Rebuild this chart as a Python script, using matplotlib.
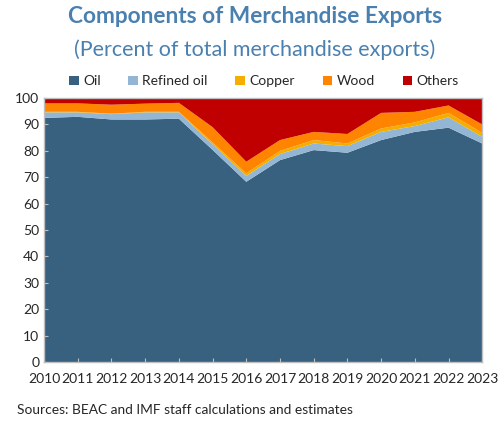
import numpy as np
import matplotlib
matplotlib.use("Agg")
import matplotlib.pyplot as plt

plt.rcParams["font.family"] = ["Lato", "DejaVu Sans"]

years = list(range(2010, 2024))
oil_top = [92.5, 92.9, 91.9, 91.9, 92.2, 80.4, 68.3, 76.5, 80.3, 79.3, 84.1, 87.2, 88.8, 82.8]
refined_top = [94.6, 94.6, 93.9, 94.6, 94.6, 82.5, 70.5, 78.8, 82.8, 81.8, 87.2, 89.4, 92.7, 85.3]
copper_top = [94.8, 94.8, 94.1, 94.8, 94.8, 83.2, 71.5, 80.0, 84.1, 82.8, 88.5, 90.8, 94.4, 86.8]
wood_top = [98.0, 98.0, 97.5, 97.9, 98.2, 89.0, 75.9, 84.1, 87.2, 86.4, 94.4, 94.8, 97.2, 90.0]

oil = np.array(oil_top)
refined = np.array(refined_top) - np.array(oil_top)
copper = np.array(copper_top) - np.array(refined_top)
wood = np.array(wood_top) - np.array(copper_top)
others = 100 - np.array(wood_top)

labels = ["Oil", "Refined oil", "Copper", "Wood", "Others"]
colors = ["#386180", "#93b6d4", "#f5ad00", "#ff8400", "#c00000"]

fig = plt.figure(figsize=(4.98, 4.21), dpi=100)
ax = fig.add_axes([0.0884, 0.140, 0.880, 0.627])

ax.stackplot(years, oil, refined, copper, wood, others, colors=colors,
             labels=labels, lw=0)
ax.set_xlim(2010, 2023)
ax.set_ylim(0, 100)
ax.set_yticks(range(0, 101, 10))
ax.set_xticks(years)
ax.tick_params(axis="both", direction="in", length=3, color="#bfbfbf",
               labelsize=10, labelcolor="#262626")
ax.tick_params(axis="x", pad=8)
for s in ax.spines.values():
    s.set_color("#bfbfbf")
    s.set_linewidth(1)

fig.text(0.512, 0.960, "Components of Merchandise Exports", ha="center",
         va="center", fontsize=16.3, fontweight="bold", color="#4a80b0")
fig.text(0.512, 0.883, "(Percent of total merchandise exports)", ha="center",
         va="center", fontsize=15.5, color="#4a80b0")
fig.legend(loc="center", bbox_to_anchor=(0.53, 0.807), ncol=5, frameon=False,
           fontsize=10, handlelength=0.7, handleheight=0.7, handletextpad=0.3,
           columnspacing=2.0, labelcolor="#262626")
fig.text(0.034, 0.026, "Sources: BEAC and IMF staff calculations and estimates",
         ha="left", va="center", fontsize=9.9, color="#262626")

fig.savefig("out.png", dpi=100)
